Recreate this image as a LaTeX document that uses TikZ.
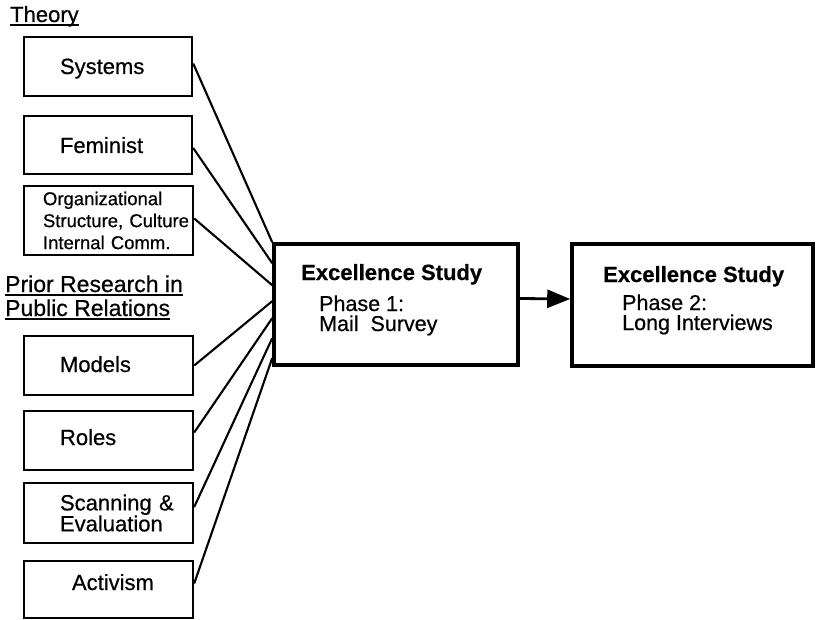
\documentclass[tikz,border=0pt]{standalone}
\usepackage{fontspec}
\setmainfont{Liberation Sans}[UprightFeatures={FakeBold=0.6},BoldFeatures={FakeBold=0.6}]
\usetikzlibrary{arrows.meta}

\tikzset{
  lbox/.style={draw, line width=2.4pt, align=left, text height=16pt,
    font=\fontsize{22}{21}\selectfont},
  bigbox/.style={draw, line width=3.6pt},
  txt/.style={inner sep=0pt, anchor=base west, font=\fontsize{21.5}{20}\selectfont},
  head/.style={inner sep=0pt, anchor=base west},
  uline/.style={line width=1.8pt},
  conn/.style={line width=2.1pt},
  flow/.style={line width=2.8pt, -{Triangle[length=23pt,width=18pt]}}
}

\begin{document}
\begin{tikzpicture}[x=1pt, y=-1pt]
  \useasboundingbox (0,0) rectangle (816,620);

  % section headings
  \node[head, font=\fontsize{22}{22}\selectfont] (theory) at (10,22) {Theory};
  \draw[uline] ([yshift=-3pt]theory.base west) -- ([yshift=-3pt]theory.base east);
  \node[head, font=\fontsize{23}{23}\selectfont] (prior1) at (5,292) {Prior Research in};
  \node[head, font=\fontsize{23}{23}\selectfont] (prior2) at (5,316) {Public Relations};
  \draw[uline] ([yshift=-3pt]prior1.base west) -- ([yshift=-3pt]prior1.base east);
  \draw[uline] ([yshift=-3pt]prior2.base west) -- ([yshift=-3pt]prior2.base east);

  % theory boxes
  \node[lbox, minimum width=168pt, minimum height=59pt, inner xsep=36pt,
        text width=96pt, text depth=1pt] (sys) at (108,66.5) {Systems};
  \node[lbox, minimum width=168pt, minimum height=58pt, inner xsep=36pt,
        text width=96pt, text depth=0pt] (fem) at (108,145) {Feminist};
  \node[draw, line width=2.4pt, align=left, minimum width=169pt, minimum height=69pt,
        inner xsep=19pt, text width=131pt, font=\fontsize{18.5}{22}\selectfont]
        (org) at (108.5,220.5)
        {\mbox{Organizational}\\\mbox{Structure, Culture}\\\mbox{Internal Comm.}};

  % prior research boxes
  \node[lbox, minimum width=169pt, minimum height=59pt, inner xsep=36pt,
        text width=97pt, text depth=3pt] (mod) at (108.5,365.5) {Models};
  \node[lbox, minimum width=169pt, minimum height=59pt, inner xsep=36pt,
        text width=97pt, text depth=7pt] (rol) at (108.5,440.5) {Roles};
  \node[draw, line width=2.4pt, align=left, minimum width=169pt, minimum height=60pt,
        inner xsep=36pt, text width=97pt, font=\fontsize{22}{21}\selectfont]
        (sca) at (108.5,513) {\mbox{Scanning \&}\\\mbox{Evaluation}};
  \node[lbox, minimum width=169pt, minimum height=57pt, inner xsep=48pt,
        text width=73pt, text depth=15pt] (act) at (108.5,589.5) {Activism};

  % study phases
  \node[bigbox, minimum width=244pt, minimum height=121pt] (mid) at (396,304.5) {};
  \node[txt, font=\fontsize{22}{21}\bfseries] (midtitle) at (301,280) {Excellence Study};
  \node[txt] (midline1) at (319,311) {Phase 1:};
  \node[txt] (midline2) at (319,331) {Mail\ \ Survey};

  \node[bigbox, minimum width=241pt, minimum height=122pt] (res) at (692.5,305) {};
  \node[txt, font=\fontsize{22}{21}\bfseries] (restitle) at (603,282) {Excellence Study};
  \node[txt] (resline1) at (622,310) {Phase 2:};
  \node[txt] (resline2) at (622,330) {Long Interviews};

  % inputs into phase 1
  \draw[conn] ([yshift=3pt]sys.east) -- (mid.north west);
  \draw[conn] ([yshift=-3pt]fem.east) -- ([yshift=-21pt]mid.north west);
  \draw[conn] ([yshift=2pt]org.east) -- ([yshift=-43pt]mid.north west);
  \draw[conn] (mod.east) -- ([yshift=-59pt]mid.north west);
  \draw[conn] ([yshift=8pt]rol.east) -- ([yshift=-76pt]mid.north west);
  \draw[conn] ([yshift=6pt]sca.east) -- ([yshift=-96pt]mid.north west);
  \draw[conn] ([yshift=6pt]act.east) -- ([yshift=-116pt]mid.north west);

  % phase 1 leads to phase 2
  \draw[flow] ([yshift=6pt]mid.east) -- ([yshift=6pt]res.west);
\end{tikzpicture}
\end{document}
